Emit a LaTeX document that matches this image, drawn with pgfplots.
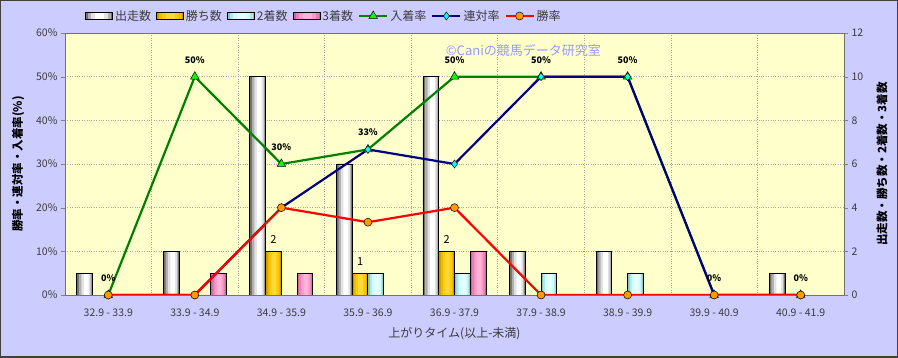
\documentclass[border=0pt]{standalone}
\usepackage{fontspec}
\setmainfont{Noto Sans CJK JP}
\usepackage{pgfplots}
\usepackage{pgfplotstable}
\pgfplotsset{compat=1.18}
\definecolor{bgl}{RGB}{204,204,255}
\definecolor{plotbg}{RGB}{255,255,204}
\definecolor{gline}{RGB}{0,128,0}
\definecolor{gmark}{RGB}{0,255,0}
\definecolor{bline}{RGB}{0,0,128}
\definecolor{bmark}{RGB}{0,255,255}
\definecolor{rline}{RGB}{255,0,0}
\definecolor{rmark}{RGB}{255,153,0}
% cylinder colours: edge, mid, light, centre
\definecolor{w1}{RGB}{112,112,112}\definecolor{w2}{RGB}{176,176,176}\definecolor{w3}{RGB}{226,226,226}\definecolor{w4}{RGB}{255,255,255}
\definecolor{g1}{RGB}{204,150,0}\definecolor{g2}{RGB}{238,186,0}\definecolor{g3}{RGB}{255,204,0}\definecolor{g4}{RGB}{255,216,60}
\definecolor{c1}{RGB}{140,196,196}\definecolor{c2}{RGB}{180,232,232}\definecolor{c3}{RGB}{204,255,255}\definecolor{c4}{RGB}{230,255,255}
\definecolor{p1}{RGB}{204,102,153}\definecolor{p2}{RGB}{232,128,180}\definecolor{p3}{RGB}{255,153,204}\definecolor{p4}{RGB}{255,180,216}
\definecolor{wm}{RGB}{153,153,255}
\definecolor{tickc}{RGB}{60,60,60}

\pgfplotstableread{
x y
0 1
1 2
2 10
3 6
4 10
5 2
6 2
8 1
}\starters
\pgfplotstableread{
x y
2 2
3 1
4 2
}\wins
\pgfplotstableread{
x y
3 1
4 1
5 1
6 1
}\seconds
\pgfplotstableread{
x y
1 1
2 1
4 2
}\thirds

% layered cylinder bar: table, colour prefix, shifts (outer, mid, light, centre), extra options for outline
\newcommand{\cylbar}[7]{%
  \addplot[draw=none, fill=#21, bar width=0.182, bar shift=#3] table {#1};
  \addplot[draw=none, fill=#22, bar width=0.145, bar shift=#4] table {#1};
  \addplot[draw=none, fill=#23, bar width=0.105, bar shift=#5] table {#1};
  \addplot[draw=none, fill=#24, bar width=0.055, bar shift=#6] table {#1};
  \addplot[draw=black, fill=none, line width=0.9pt, bar width=0.182, bar shift=#3, #7] table {#1};
}
\newcommand{\legpatch}[1]{%
  \fill[#11] (0pt,-3.5pt) rectangle (27pt,3.5pt);
  \fill[#12] (3pt,-3.5pt) rectangle (25pt,3.5pt);
  \fill[#13] (6pt,-3.5pt) rectangle (22pt,3.5pt);
  \fill[#14] (10pt,-3.5pt) rectangle (18pt,3.5pt);
  \draw[black, line width=0.9pt] (0pt,-3.5pt) rectangle (27pt,3.5pt);
}
\begin{document}
\begin{tikzpicture}[x=1pt,y=1pt]
\fill[bgl] (-65,-63) rectangle (833,295);
\pgfplotsset{
  common/.style={
    scale only axis, width=779pt, height=262pt,
    xmin=-0.5, xmax=8.5,
    every tick label/.append style={font=\fontsize{10.5}{12}\selectfont, text=tickc},
    /pgf/number format/assume math mode=true,
    tick align=outside,
    major tick length=4pt,
    minor tick length=0pt,
  },
}
% ---- bars axis (right scale) ----
\begin{axis}[common,
  ymin=0, ymax=12, ytick={0,2,...,12},
  ytick pos=right, yticklabel pos=right,
  axis background/.style={fill=plotbg},
  axis line style={black!55, line width=0.8pt},
  xtick={0,...,8},
  xticklabels={32.9 - 33.9, 33.9 - 34.9, 34.9 - 35.9, 35.9 - 36.9, 36.9 - 37.9, 37.9 - 38.9, 38.9 - 39.9, 39.9 - 40.9, 40.9 - 41.9},
  xticklabel style={yshift=-6pt},
  xtick style={draw=none},
  minor xtick={0.5,1.5,...,7.5},
  xminorgrids, ymajorgrids,
  major grid style={black!35, dotted, line width=0.6pt},
  minor grid style={black!35, dotted, line width=0.6pt},
  ybar,
  xlabel={上がりタイム(以上-未満)},
  xlabel style={at={(axis description cs:0.5,-0.147)}, anchor=center, font=\fontsize{12}{14}\selectfont, text=tickc},
  ylabel={出走数・勝ち数・2着数・3着数},
  ylabel style={at={(axis description cs:1.0488,0.5)}, anchor=center, font=\bfseries\fontsize{11.5}{13}\selectfont, text=black},
]
\cylbar{\starters}{w}{-0.273}{-0.266}{-0.259}{-0.255}{}
\cylbar{\wins}{g}{-0.091}{-0.087}{-0.083}{-0.085}{nodes near coords, every node near coord/.append style={font=\fontsize{11}{12}\selectfont, text=black, anchor=center, yshift=12pt}}
\cylbar{\seconds}{c}{0.091}{0.095}{0.099}{0.101}{}
\cylbar{\thirds}{p}{0.273}{0.277}{0.281}{0.283}{}
\end{axis}
% ---- lines axis (left scale) ----
\begin{axis}[common,
  ymin=0, ymax=60, ytick={0,10,...,60},
  yticklabel={\pgfmathprintnumber{\tick}\%},
  axis y line*=left, axis x line=none,
  y axis line style={black!55, line width=0.8pt},
  ylabel={勝率・連対率・入着率(\%)},
  ylabel style={at={(axis description cs:-0.0603,0.5)}, anchor=center, font=\bfseries\fontsize{11.5}{13}\selectfont, text=black},
  legend columns=-1,
  legend style={draw=none, fill=none, at={(axis description cs:0.0218,1.0649)}, anchor=west,
    font=\fontsize{12}{14}\selectfont, text=tickc,
    /tikz/every even column/.append style={column sep=3pt}},
  legend image code/.code={\draw[mark repeat=2,mark phase=2,#1] plot coordinates {(0pt,0pt) (14pt,0pt) (28pt,0pt)};},
]
\addlegendimage{legend image code/.code={\legpatch{w}}}
\addlegendentry{出走数}
\addlegendimage{legend image code/.code={\legpatch{g}}}
\addlegendentry{勝ち数}
\addlegendimage{legend image code/.code={\legpatch{c}}}
\addlegendentry{2着数}
\addlegendimage{legend image code/.code={\legpatch{p}}}
\addlegendentry{3着数}
\node[text=wm, font=\fontsize{13}{15}\selectfont, anchor=west] at (axis cs:3.86,56.1) {©Caniの競馬データ研究室};
\addplot[gline, line width=2.2pt, mark=triangle*, mark size=5pt, mark options={fill=gmark, draw=black, line width=0.5pt},
  nodes near coords={\pgfmathprintnumber[fixed,precision=0]{\pgfplotspointmeta}\%},
  every node near coord/.append style={font=\bfseries\fontsize{9}{10}\selectfont, text=black, anchor=center, yshift=17pt}]
  coordinates {(0,0) (1,50) (2,30) (3,33.33) (4,50) (5,50) (6,50) (7,0) (8,0)};
\addlegendentry{入着率}
\addplot[bline, line width=2.2pt, mark=diamond*, mark size=4pt, mark options={fill=bmark, draw=black, line width=0.5pt}]
  coordinates {(0,0) (1,0) (2,20) (3,33.33) (4,30) (5,50) (6,50) (7,0) (8,0)};
\addlegendentry{連対率}
\addplot[rline, line width=2.2pt, mark=*, mark size=4pt, mark options={fill=rmark, draw=black, line width=0.5pt}]
  coordinates {(0,0) (1,0) (2,20) (3,16.67) (4,20) (5,0) (6,0) (7,0) (8,0)};
\addlegendentry{勝率}
\end{axis}
\draw[black!75, line width=1.5pt] (-64.25,-62.25) rectangle (832.25,294.25);
\pgfresetboundingbox
\useasboundingbox (-65,-63) rectangle (833,295);
\end{tikzpicture}
\end{document}
